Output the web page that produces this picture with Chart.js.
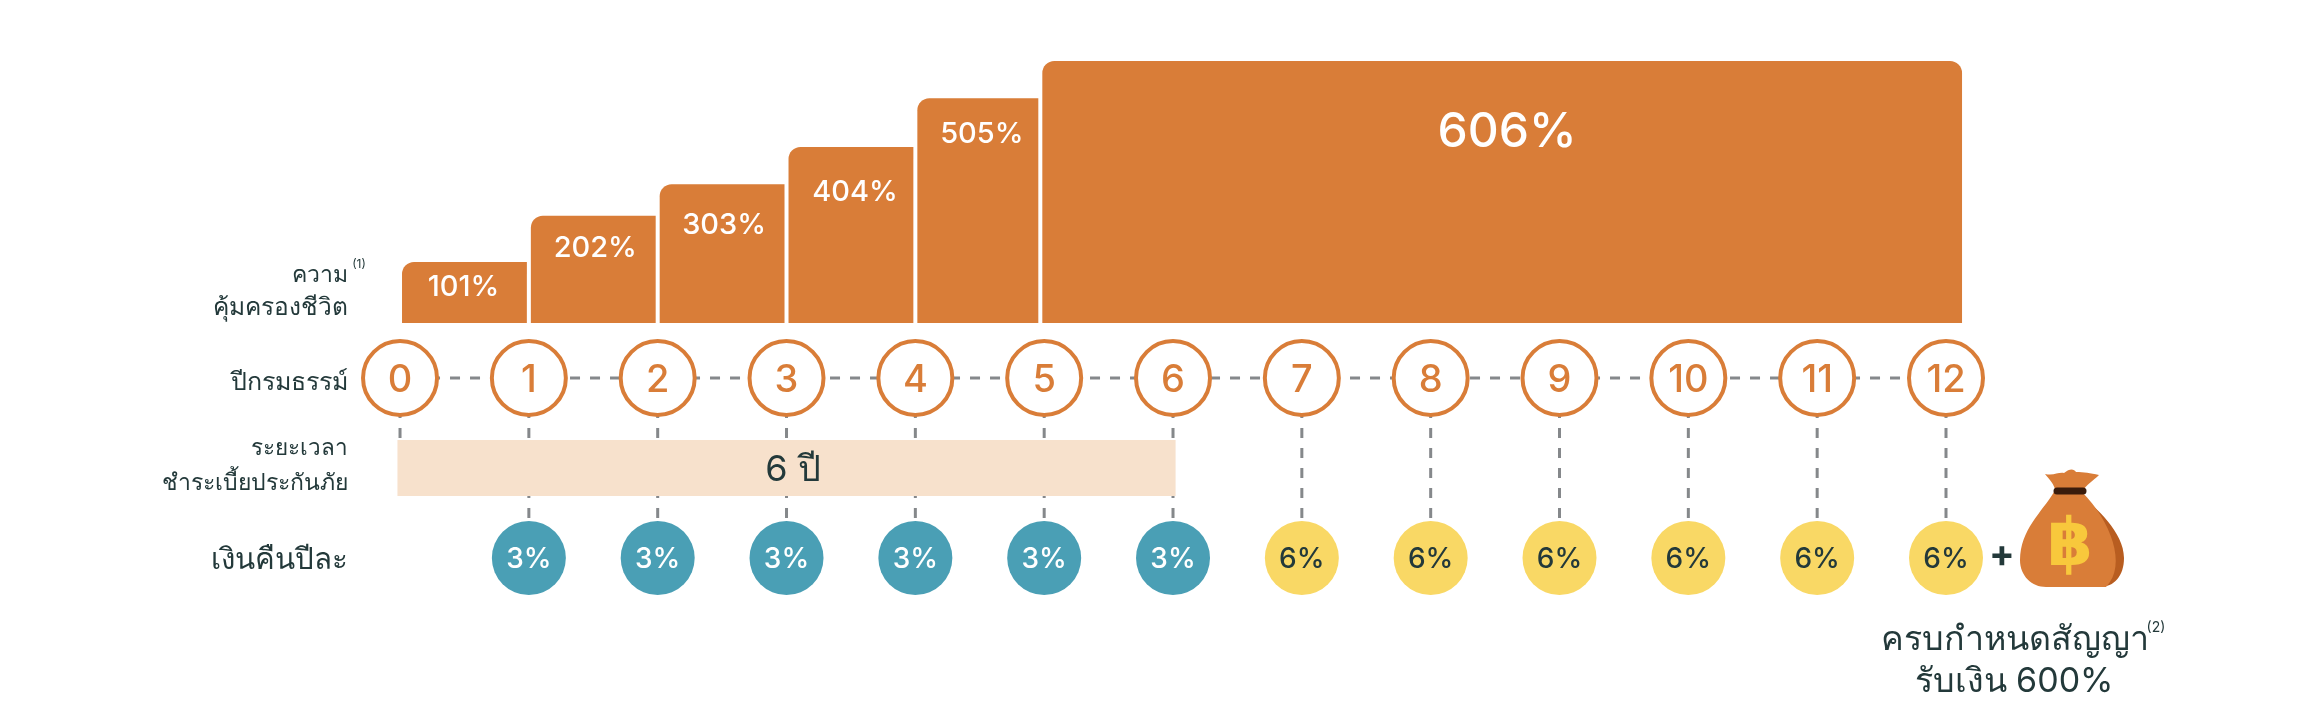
<!DOCTYPE html>
<html lang="th">
<head>
<meta charset="utf-8">
<title>แผนประกัน 12 ปี</title>
<script src="https://cdn.jsdelivr.net/npm/chart.js@4"></script>
<style>
  html, body { margin:0; padding:0; background:#fff; }
  canvas { display:block; }
</style>
</head>
<body>
<canvas id="planChart" width="2299" height="727"></canvas>
<script>
const years = [0,1,2,3,4,5,6,7,8,9,10,11,12];

// life cover steps. the source picture is a sketch, steps are not to scale,
// so stepLevels is what the bars read against a 0-606 axis
const coverLabels = ["101%","202%","303%","404%","505%","606%"];
const stepLevels = [141,248,321,407,520,606];
const stepFrom = [0,1,2,3,4,4.97];
const stepTo = [1,2,3,4,4.97,12.14];

const paymentYears = [-0.02,6.02];
const paymentLabel = "6 ปี";

const lowRefundYears = [1,2,3,4,5,6];
const lowRefundLabel = "3%";
const highRefundYears = [7,8,9,10,11,12];
const highRefundLabel = "6%";

const ORANGE = "#D97D38", PEACH = "#F7E1CC", TEAL = "#4A9FB5", YELLOW = "#F9D865";
const INK = "#23393A", DASH = "#85888B";
const FONT = 'Inter, "Noto Sans", sans-serif';

const ROW_POLICY = 0, ROW_TERM = 1, ROW_REFUND = 2;

function txt(ctx, s, x, y, size, color, align, weight) {
  ctx.font = (weight || 400) + " " + size + "px " + FONT;
  ctx.fillStyle = color;
  ctx.textAlign = align || "center";
  ctx.textBaseline = "middle";
  ctx.fillText(s, x, y);
}

// bars on a linear x axis get their width from the year span, not from the ruler
const stepSpans = {
  id:"stepSpans",
  afterDatasetsUpdate(chart) {
    const xs = chart.scales.x;
    chart.getDatasetMeta(0).data.forEach((bar, i) => {
      const a = xs.getPixelForValue(stepFrom[i]) + 2;
      const b = xs.getPixelForValue(stepTo[i]) - 2;
      bar.x = (a + b) / 2;
      bar.width = b - a;
    });
  }
};

function drawBag(ctx, cx, top) {
  const p = (x, y) => [cx + x, top + y];
  const path = pts => {
    ctx.beginPath();
    ctx.moveTo(...p(pts[0][0], pts[0][1]));
    pts.slice(1).forEach(c => ctx.bezierCurveTo(...p(c[0], c[1]), ...p(c[2], c[3]), ...p(c[4], c[5])));
    ctx.closePath();
  };
  // dark side, shows along the right edge only
  ctx.fillStyle = "#B85D20";
  path([[6,22],[24,38,52,62,52,88],[52,106,42,117,28,117],[10,117,10,117,4,117],[4,80,4,50,6,22]]);
  ctx.fill();
  // body
  ctx.fillStyle = ORANGE;
  path([[-18,22],[-30,42,-52,60,-52,90],[-52,106,-40,117,-26,117],[-5,117,10,117,34,117],[56,95,38,50,10,22],[0,20,-10,20,-18,22]]);
  ctx.fill();
  // ruffled top
  path([[-27,4],[-18,6,-14,2,-8,3],[-2,-2,2,-1,4,2],[12,2,18,3,27,5],[22,10,14,15,10,22],[2,24,-10,24,-16,22],[-18,14,-22,10,-27,4]]);
  ctx.fill();
  // tie
  ctx.strokeStyle = "#3A1C0C";
  ctx.lineWidth = 7;
  ctx.lineCap = "round";
  ctx.beginPath();
  ctx.moveTo(...p(-15,21));
  ctx.lineTo(...p(11,21));
  ctx.stroke();
  ctx.save();
  ctx.font = "bold 66px " + '"DejaVu Sans"';
  ctx.fillStyle = "#F8C83C";
  ctx.textAlign = "center";
  ctx.textBaseline = "middle";
  ctx.fillText("฿", cx - 2, top + 78);
  ctx.restore();
}

const textLayer = {
  id:"textLayer",
  afterDatasetsDraw(chart) {
    const ctx = chart.ctx, xs = chart.scales.x, lv = chart.scales.yLevel, rw = chart.scales.yRow;
    const X = v => xs.getPixelForValue(v), R = v => rw.getPixelForValue(v);
    ctx.save();

    // text inside the steps
    const drop = [25,32,41,45,36,72];
    const sizes = [29,29,29,29,29,48];
    const nudge = [-1,2,2,4,4,5];
    coverLabels.forEach((s, i) => {
      const cx = (X(stepFrom[i]) + X(stepTo[i])) / 2 + nudge[i];
      txt(ctx, s, cx, lv.getPixelForValue(stepLevels[i]) + drop[i], sizes[i], "#FFFFFF", "center", 500);
    });

    years.forEach(y => txt(ctx, String(y), X(y), R(ROW_POLICY) + 3, 38, ORANGE, "center", 500));
    lowRefundYears.forEach(y => txt(ctx, lowRefundLabel, X(y), R(ROW_REFUND) + 2, 28, "#FFFFFF", "center", 500));
    highRefundYears.forEach(y => txt(ctx, highRefundLabel, X(y), R(ROW_REFUND) + 2, 28, INK, "center", 500));
    txt(ctx, paymentLabel, X(3.05), R(ROW_TERM) + 2, 36, INK);

    // row titles
    txt(ctx, "ความ", 348, 275, 23, INK, "right");
    txt(ctx, "(1)", 359, 264, 12, INK);
    txt(ctx, "คุ้มครองชีวิต", 348, 308, 24.5, INK, "right");
    txt(ctx, "ปีกรมธรรม์", 348, R(ROW_POLICY) + 4, 25, INK, "right");
    txt(ctx, "ระยะเวลา", 348, 448, 22.5, INK, "right");
    txt(ctx, "ชำระเบี้ยประกันภัย", 348, 483, 23, INK, "right");
    txt(ctx, "เงินคืนปีละ", 348, R(ROW_REFUND) + 2, 29.5, INK, "right");

    // maturity note
    txt(ctx, "+", X(12) + 56, 556, 38, INK, "center", 700);
    drawBag(ctx, X(12) + 126, 470);
    txt(ctx, "ครบกำหนดสัญญา", 2015, 640, 34, INK);
    txt(ctx, "(2)", 2156, 628, 14, INK);
    txt(ctx, "รับเงิน 600%", 2014, 682, 34, INK);
    ctx.restore();
  }
};

const dashStyle = { borderColor:DASH, borderWidth:3, borderDash:[10,10], borderDashOffset:10, pointRadius:0, order:3, xAxisID:"x", yAxisID:"yRow" };

const dashLines = [
  Object.assign({ type:"line", data:years.map(y => ({ x:y, y:ROW_POLICY })) }, dashStyle)
].concat(years.map(y => Object.assign({
  type:"line",
  data:[{ x:y, y:ROW_POLICY }, { x:y, y:y === 0 ? ROW_TERM : ROW_REFUND }]
}, dashStyle)));

new Chart(document.getElementById("planChart").getContext("2d"), {
  type:"bar",
  data:{
    datasets:[
      {
        type:"bar",
        data:stepLevels.map((v, i) => ({ x:(stepFrom[i] + stepTo[i]) / 2, y:v })),
        backgroundColor:ORANGE,
        borderSkipped:false,
        borderRadius:ctx => ({ topLeft:12, topRight:ctx.dataIndex === 5 ? 12 : 0, bottomLeft:0, bottomRight:0 }),
        order:4, xAxisID:"x", yAxisID:"yLevel"
      },
      {
        type:"line",
        data:paymentYears.map(y => ({ x:y, y:ROW_TERM })),
        borderColor:PEACH, borderWidth:56, borderCapStyle:"butt", pointRadius:0,
        order:2, xAxisID:"x", yAxisID:"yRow"
      },
      {
        type:"scatter",
        data:years.map(y => ({ x:y, y:ROW_POLICY })),
        backgroundColor:"#FFFFFF", borderColor:ORANGE, borderWidth:4, pointRadius:37,
        order:1, xAxisID:"x", yAxisID:"yRow"
      },
      {
        type:"scatter",
        data:lowRefundYears.map(y => ({ x:y, y:ROW_REFUND })),
        backgroundColor:TEAL, borderWidth:0, pointRadius:37,
        order:1, xAxisID:"x", yAxisID:"yRow"
      },
      {
        type:"scatter",
        data:highRefundYears.map(y => ({ x:y, y:ROW_REFUND })),
        backgroundColor:YELLOW, borderWidth:0, pointRadius:37,
        order:1, xAxisID:"x", yAxisID:"yRow"
      }
    ].concat(dashLines)
  },
  options:{
    responsive:false,
    animation:false,
    layout:{ padding:0, autoPadding:false },
    plugins:{ legend:{ display:false }, tooltip:{ enabled:false } },
    scales:{
      x:{ type:"linear", display:false, offset:false, bounds:"data", min:-3.105, max:14.74 },
      yLevel:{ type:"linear", display:false, bounds:"data", min:-934.4, max:747.1 },
      yRow:{ type:"linear", display:false, bounds:"data", reverse:true, min:-4.2, max:3.878 }
    }
  },
  plugins:[stepSpans, textLayer]
});
</script>
</body>
</html>
